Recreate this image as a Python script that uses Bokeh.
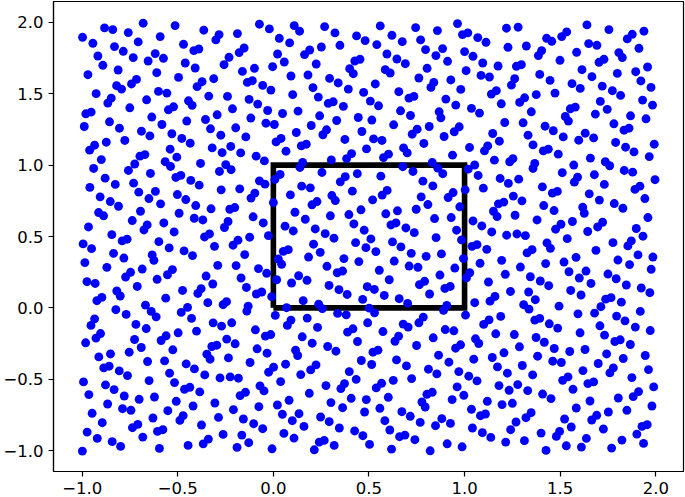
from bokeh.plotting import figure
from bokeh.models import FixedTicker, Range1d, ColumnDataSource
from bokeh.embed import file_html
from bokeh.resources import INLINE

points_top_left = [
(-0.998,1.896),(-0.944,1.854),(-0.883,1.962),(-0.840,1.950),(-0.759,1.929),(-0.681,1.995),(-0.592,1.901),(-0.514,1.978),
(-0.707,1.864),(-0.831,1.831),(-0.785,1.798),(-0.918,1.765),(-0.892,1.700),(-0.733,1.754),(-0.618,1.782),(-0.655,1.730),
(-0.575,1.749),(-0.470,1.847),(-0.416,1.803),(-0.390,1.814),(-0.364,1.946),(-0.284,1.915),(-0.301,1.878),(-0.188,1.922),
(-0.073,1.988),(-0.153,1.821),(-0.179,1.789),(-0.232,1.756),(-0.258,1.704),(-0.461,1.716),(-0.409,1.681),(-0.812,1.667),
(-0.970,1.634),(-0.610,1.648),(-0.496,1.615),(-0.716,1.601),(-0.742,1.569),(-0.820,1.557),(-0.794,1.533),(-0.927,1.501),
(-0.601,1.517),(-0.557,1.505),(-0.373,1.585),(-0.399,1.550),(-0.312,1.606),(-0.162,1.657),(-0.099,1.679),(-0.110,1.592),
(-0.136,1.580),(-0.338,1.484),(-0.240,1.482),(-0.127,1.461),(-0.082,1.428),(-0.848,1.470),(-0.866,1.435),(-0.663,1.458),
(-0.444,1.451),(-0.425,1.419),(-0.751,1.402),(-0.522,1.409),(-0.549,1.388),(-0.214,1.395),(-0.953,1.372),(-0.981,1.360),
(-0.636,1.337),(-0.294,1.353),(-0.355,1.320),(-0.453,1.309),(-0.118,1.330),(-0.857,1.304),(-0.989,1.271),(-0.583,1.285),
(-0.805,1.259),(-0.329,1.255),(-0.197,1.262),(-0.690,1.238),(-0.646,1.205),(-0.531,1.220),(-0.275,1.210),(-0.144,1.198),
(-0.479,1.187),(-0.777,1.173),(-0.874,1.161),(-0.435,1.154),(-0.935,1.140),(-0.961,1.105),(-0.540,1.112),(-0.320,1.121),
(-0.223,1.131),(-0.268,1.088),(-0.171,1.086),(-0.672,1.074),(-0.698,1.063),(-0.505,1.056),(-0.090,1.063),(-0.900,1.039),
]
points_top_mid = [
(-0.021,1.955),(0.109,1.978),(0.137,1.939),(0.031,1.889),(0.085,1.857),(0.268,1.971),(0.322,1.927),(0.435,1.906),
(0.480,1.873),(0.348,1.840),(0.251,1.828),(0.190,1.807),(0.163,1.775),(0.022,1.779),(0.057,1.723),(-0.004,1.690),
(0.224,1.709),(0.559,1.976),(0.620,1.910),(0.674,1.866),(0.541,1.845),(0.744,1.964),(0.770,1.878),(0.858,1.943),
(0.963,1.992),(1.017,1.927),(0.989,1.915),(0.885,1.817),(0.796,1.810),(0.850,1.768),(0.911,1.728),(1.000,1.796),
(0.594,1.779),(0.646,1.744),(0.690,1.711),(0.453,1.742),(0.426,1.730),(0.399,1.676),(0.418,1.641),(0.092,1.625),
(0.181,1.632),(0.294,1.608),(0.339,1.576),(-0.056,1.559),(-0.013,1.526),(0.207,1.543),(0.392,1.533),(0.533,1.569),
(0.585,1.669),(0.611,1.646),(0.804,1.679),(0.761,1.611),(1.008,1.662),(0.928,1.597),(0.839,1.580),(0.824,1.545),
(0.980,1.531),(0.101,1.494),(0.235,1.477),(0.472,1.510),(0.656,1.515),(0.735,1.482),(0.709,1.470),(0.507,1.449),
(0.313,1.444),(0.287,1.433),(0.902,1.463),(0.954,1.421),(0.366,1.412),(0.550,1.416),(-0.030,1.383),(0.129,1.379),
(0.048,1.362),(0.665,1.381),(0.717,1.348),(0.867,1.374),(0.876,1.332),(0.242,1.346),(0.444,1.334),(0.515,1.316),
(0.331,1.313),(-0.039,1.294),(0.005,1.285),(0.198,1.278),(0.629,1.283),(0.815,1.271),(0.972,1.269),(0.946,1.234),
(0.752,1.252),(0.726,1.217),(0.120,1.229),(0.278,1.248),(0.259,1.213),(0.463,1.236),(0.893,1.201),(0.374,1.180),
(0.524,1.184),(0.568,1.173),(0.040,1.187),(0.014,1.163),(0.172,1.147),(0.146,1.135),(0.787,1.152),(1.026,1.124),
(0.487,1.114),(0.681,1.121),(0.700,1.086),(0.066,1.098),(0.409,1.081),(0.383,1.046),(0.602,1.077),(0.576,1.053),
(0.937,1.070),(0.303,1.037),(-0.047,1.030),
]
points_top_right = [
(1.069,1.894),(1.112,1.861),(1.219,1.960),(1.280,1.967),(1.227,1.826),(1.323,1.835),(1.429,1.889),(1.456,1.868),
(1.508,1.901),(1.534,1.934),(1.640,1.983),(1.755,1.950),(1.877,1.917),(1.851,1.885),(1.938,1.939),(1.649,1.852),
(1.692,1.840),(1.586,1.791),(1.912,1.819),(1.807,1.789),(1.825,1.754),(1.729,1.742),(1.703,1.721),(1.403,1.803),
(1.386,1.768),(1.499,1.735),(1.044,1.763),(1.095,1.716),(1.175,1.695),(1.297,1.704),(1.271,1.693),(1.614,1.669),
(1.957,1.688),(1.895,1.655),(1.799,1.643),(1.393,1.636),(1.666,1.620),(1.086,1.629),(1.130,1.618),(1.262,1.606),
(1.245,1.561),(1.447,1.594),(1.922,1.590),(1.562,1.571),(1.605,1.538),(1.720,1.554),(1.975,1.545),(1.773,1.522),
(1.816,1.489),(1.166,1.522),(1.140,1.498),(1.473,1.505),(1.375,1.494),(1.314,1.472),(1.288,1.440),(1.192,1.430),
(1.710,1.447),(1.931,1.456),(1.983,1.421),(1.746,1.391),(1.579,1.407),(1.553,1.395),(1.036,1.398),(1.078,1.365),
(1.349,1.374),(1.684,1.358),(1.868,1.346),(1.527,1.341),(1.949,1.325),(1.543,1.309),(1.210,1.299),(1.306,1.297),
(1.781,1.290),(1.421,1.273),(1.464,1.241),(1.860,1.259),(1.834,1.245),(1.147,1.222),(1.332,1.210),(1.631,1.224),
(1.516,1.198),(1.675,1.191),(1.597,1.175),(1.182,1.168),(1.790,1.159),(1.992,1.147),(1.358,1.142),(1.842,1.126),
(1.121,1.135),(1.104,1.100),(1.438,1.112),(1.412,1.100),(1.886,1.093),(1.490,1.077),(1.966,1.060),(1.658,1.049),
(1.156,1.035),(1.253,1.046),
]
points_mid_left = [
(-0.725,1.008),(-0.566,1.024),(-0.538,0.991),(-0.381,1.012),(-0.249,1.003),(-0.940,0.977),(-0.758,0.963),(-0.643,0.942),
(-0.282,0.956),(-0.221,0.968),(-0.484,0.928),(-0.510,0.914),(-0.880,0.909),(-0.432,0.893),(-0.827,0.865),(-0.731,0.874),
(-0.388,0.860),(-0.073,0.890),(-0.960,0.844),(-0.273,0.827),(-0.176,0.834),(-0.704,0.811),(-0.617,0.816),(-0.502,0.794),
(-0.097,0.804),(-0.117,0.769),(-0.906,0.778),(-0.651,0.766),(-0.458,0.759),(-0.853,0.745),(-0.810,0.712),(-0.590,0.729),
(-0.406,0.717),(-0.326,0.694),(-0.202,0.703),(-0.228,0.691),(-0.695,0.677),(-0.914,0.668),(-0.888,0.645),(-0.493,0.663),
(-0.414,0.628),(-0.369,0.616),(-0.106,0.638),(-0.738,0.612),(-0.573,0.595),(-0.237,0.605),(-0.256,0.563),(-0.660,0.581),
(-0.677,0.546),(-0.967,0.567),(-0.519,0.532),(-0.845,0.513),(-0.334,0.518),(-0.360,0.497),(-0.765,0.481),(-0.791,0.469),
(-0.124,0.495),(-0.185,0.474),(-0.211,0.439),(-0.599,0.464),(-0.995,0.448),(-0.308,0.431),(-0.951,0.415),(-0.545,0.420),
(-0.467,0.399),(-0.836,0.382),(-0.634,0.371),(-0.423,0.366),(-0.150,0.373),(-0.782,0.349),(-0.625,0.333),(-0.986,0.317),
(-0.291,0.298),(-0.195,0.296),(-0.871,0.284),(-0.686,0.272),(-0.078,0.275),(-0.528,0.268),(-0.554,0.232),(-0.747,0.249),
(-0.773,0.216),(-0.352,0.223),(-0.608,0.200),(-0.169,0.209),(-0.975,0.183),(-0.932,0.171),(-0.317,0.167),(-0.712,0.150),
(-0.141,0.143),(-0.475,0.122),(-0.378,0.134),(-0.395,0.101),(-0.819,0.118),(-0.801,0.083),(-0.089,0.097),(-0.897,0.073),
(-0.923,0.050),(-0.563,0.068),(-0.343,0.036),(-0.245,0.043),(-0.263,0.022),(-0.669,0.019),(-0.132,0.012),(-0.139,-0.023),
(-0.449,0.003),(-0.482,-0.032),(-0.824,-0.013),(-0.639,-0.025),(-0.770,-0.046),(-0.613,-0.063),(-0.428,-0.074),(-0.935,-0.077),
]
points_mid_mid = [
(0.153,1.019),(0.139,0.984),(0.677,0.989),(0.831,1.019),(0.860,0.979),(0.886,0.940),(0.730,0.956),(1.019,0.972),
(0.254,0.949),(0.439,0.940),(0.562,0.923),(0.035,0.935),(0.008,0.900),(0.376,0.919),(0.350,0.883),(0.782,0.888),
(0.834,0.855),(-0.044,0.867),(0.148,0.853),(0.193,0.841),(0.413,0.818),(0.595,0.823),(0.569,0.790),(1.003,0.827),
(0.089,0.792),(0.306,0.787),(0.324,0.752),(0.773,0.778),(0.940,0.808),(0.914,0.773),(0.519,0.757),(0.228,0.745),
(0.202,0.722),(0.808,0.724),(0.000,0.738),(0.975,0.708),(0.458,0.687),(0.747,0.691),(0.649,0.680),(0.113,0.670),
(0.395,0.654),(0.588,0.659),(0.298,0.645),(0.167,0.621),(0.843,0.626),(0.930,0.633),(-0.053,0.595),(0.641,0.595),
(0.615,0.581),(0.421,0.588),(0.693,0.560),(0.061,0.572),(0.219,0.553),(0.475,0.544),(0.104,0.539),(0.737,0.527),
(0.958,0.544),(0.271,0.520),(-0.026,0.506),(0.317,0.488),(0.851,0.492),(0.510,0.483),(0.984,0.476),(0.623,0.462),
(0.430,0.457),(0.210,0.446),(0.667,0.427),(0.484,0.422),(0.078,0.408),(0.052,0.396),(0.245,0.389),(0.536,0.394),
(0.721,0.382),(0.879,0.378),(0.184,0.356),(0.799,0.361),(0.369,0.345),(0.026,0.342),(0.994,0.345),(0.632,0.328),
(0.447,0.324),(0.043,0.305),(0.280,0.291),(0.710,0.293),(0.756,0.284),(0.949,0.279),(0.362,0.258),(0.334,0.246),
(0.554,0.263),(1.027,0.246),(-0.035,0.242),(0.132,0.225),(0.871,0.230),(1.010,0.211),(0.017,0.197),(0.176,0.193),
(0.606,0.197),(0.095,0.174),(0.791,0.186),(0.764,0.162),(0.291,0.157),(0.491,0.148),(0.528,0.129),(0.343,0.127),
(0.925,0.150),(0.897,0.136),(0.386,0.094),(0.580,0.087),(0.817,0.097),(-0.061,0.111),(-0.009,0.078),(0.467,0.059),
(0.658,0.064),(0.156,0.050),(0.702,0.031),(0.237,0.026),(0.256,-0.006),(0.069,0.001),(0.501,-0.002),(0.529,-0.035),
(0.907,0.017),(0.890,-0.018),(0.336,-0.039),(0.381,-0.049),(0.010,-0.053),(1.005,-0.051),(0.177,-0.072),(0.092,-0.086),
(0.784,-0.065),
]
points_mid_right = [
(1.053,1.001),(1.236,1.024),(1.367,1.012),(1.358,0.977),(1.571,1.001),(1.736,1.024),(1.759,0.996),(1.835,0.963),
(1.879,0.951),(1.996,0.898),(1.071,0.928),(1.511,0.947),(1.679,0.933),(1.591,0.916),(1.574,0.881),(1.186,0.907),
(1.283,0.902),(1.229,0.872),(1.731,0.865),(1.917,0.853),(1.891,0.830),(1.098,0.839),(1.407,0.848),(1.485,0.816),
(1.459,0.804),(1.652,0.799),(1.255,0.783),(1.943,0.766),(1.705,0.755),(1.300,0.750),(1.205,0.741),(1.177,0.729),
(1.783,0.731),(1.414,0.717),(1.828,0.698),(1.618,0.705),(1.468,0.682),(1.626,0.663),(1.151,0.677),(1.170,0.640),
(1.264,0.649),(1.959,0.633),(1.379,0.616),(1.564,0.605),(1.044,0.609),(1.722,0.600),(1.696,0.567),(1.504,0.586),
(1.476,0.551),(1.090,0.574),(1.898,0.556),(1.644,0.535),(1.142,0.532),(1.220,0.509),(1.274,0.518),(1.318,0.506),
(1.933,0.502),(1.537,0.485),(1.872,0.469),(1.854,0.434),(1.431,0.455),(1.449,0.417),(1.776,0.457),(1.065,0.443),
(1.039,0.431),(1.116,0.410),(1.353,0.408),(1.327,0.385),(1.687,0.403),(1.907,0.371),(1.583,0.354),(1.985,0.356),
(1.802,0.335),(1.194,0.333),(1.520,0.321),(1.424,0.310),(1.081,0.312),(1.863,0.303),(1.292,0.286),(1.546,0.253),
(1.635,0.258),(1.976,0.270),(1.213,0.235),(1.750,0.237),(1.344,0.218),(1.600,0.209),(1.793,0.204),(1.125,0.181),
(1.396,0.188),(1.661,0.171),(1.440,0.155),(1.846,0.160),(1.924,0.139),(1.555,0.122),(1.240,0.115),(1.335,0.111),
(1.969,0.106),(1.609,0.090),(1.159,0.080),(1.766,0.071),(1.738,0.061),(1.370,0.057),(1.133,0.047),(1.053,0.036),
(1.820,0.040),(1.309,0.022),(1.713,0.008),(1.337,-0.009),(1.494,0.012),(1.919,-0.025),(1.680,-0.037),(1.593,-0.042),
(1.795,-0.058),(1.189,-0.060),(1.839,-0.091),(1.393,-0.074),(1.367,-0.086),(1.128,-0.084),
]
points_low_left = [
(-0.315,-0.105),(-0.218,-0.105),(-0.954,-0.123),(-0.719,-0.116),(-0.271,-0.128),(-0.665,-0.145),(-0.094,-0.154),(-0.402,-0.163),
(-0.498,-0.175),(-0.904,-0.180),(-0.928,-0.212),(-0.561,-0.196),(-0.587,-0.229),(-0.726,-0.222),(-0.982,-0.245),(-0.244,-0.219),
(-0.200,-0.252),(-0.296,-0.262),(-0.322,-0.271),(-0.691,-0.278),(-0.085,-0.287),(-0.526,-0.294),(-0.754,-0.311),(-0.852,-0.323),
(-0.348,-0.325),(-0.235,-0.351),(-0.913,-0.344),(-0.331,-0.360),(-0.658,-0.376),(-0.569,-0.372),(-0.122,-0.383),(-0.456,-0.393),
(-0.859,-0.409),(-0.887,-0.421),(-0.413,-0.428),(-0.806,-0.442),(-0.763,-0.475),(-0.543,-0.458),(-0.359,-0.470),(-0.279,-0.491),
(-0.226,-0.484),(-0.183,-0.493),(-0.650,-0.510),(-0.993,-0.519),(-0.517,-0.524),(-0.878,-0.540),(-0.070,-0.547),(-0.437,-0.557),
(-0.465,-0.571),(-0.833,-0.573),(-0.385,-0.589),(-0.146,-0.592),(-0.174,-0.615),(-0.965,-0.608),(-0.780,-0.618),(-0.622,-0.625),
(-0.702,-0.641),(-0.508,-0.655),(-0.867,-0.674),(-0.306,-0.667),(-0.420,-0.688),(-0.076,-0.693),(-0.789,-0.707),(-0.745,-0.718),
(-0.552,-0.721),(-0.209,-0.714),(-0.948,-0.739),(-0.472,-0.756),(-0.489,-0.789),(-0.630,-0.772),(-0.287,-0.768),(-0.157,-0.779),
(-0.895,-0.805),(-0.103,-0.812),(-0.376,-0.821),(-0.709,-0.817),(-0.737,-0.840),(-0.578,-0.854),(-0.606,-0.866),(-0.974,-0.871),
(-0.263,-0.887),(-0.165,-0.892),(-0.683,-0.906),(-0.921,-0.915),(-0.340,-0.920),(-0.367,-0.953),(-0.129,-0.945),(-0.843,-0.938),
(-0.446,-0.964),(-0.799,-0.971),(-0.190,-0.978),(-0.596,-0.985),(-0.999,-1.004),
]
points_low_mid = [
(0.073,-0.123),(0.231,-0.137),(0.493,-0.105),(0.679,-0.114),(0.761,-0.105),(0.705,-0.135),(0.416,-0.147),(0.388,-0.170),
(0.899,-0.152),(0.944,-0.161),(0.573,-0.166),(-0.014,-0.187),(-0.042,-0.198),(0.151,-0.203),(0.655,-0.198),(0.636,-0.234),
(0.836,-0.210),(0.440,-0.236),(0.203,-0.248),(0.979,-0.259),(0.953,-0.283),(0.749,-0.264),(0.284,-0.271),(0.116,-0.297),
(0.327,-0.304),(0.547,-0.297),(0.521,-0.311),(-0.033,-0.318),(0.127,-0.334),(0.864,-0.332),(0.460,-0.369),(0.644,-0.365),
(0.918,-0.381),(0.514,-0.397),(0.064,-0.395),(0.223,-0.400),(0.696,-0.407),(0.195,-0.435),(0.001,-0.416),(-0.025,-0.451),
(0.811,-0.430),(0.397,-0.447),(0.970,-0.447),(0.855,-0.463),(0.143,-0.468),(1.022,-0.479),(0.433,-0.501),(0.723,-0.496),
(0.627,-0.508),(0.038,-0.517),(0.566,-0.529),(0.538,-0.561),(0.372,-0.531),(0.353,-0.566),(0.275,-0.545),(0.961,-0.554),
(0.831,-0.592),(0.803,-0.606),(0.188,-0.599),(0.996,-0.613),(0.601,-0.627),(0.407,-0.634),(0.486,-0.643),(0.082,-0.648),
(0.935,-0.643),(0.777,-0.660),(0.301,-0.664),(0.021,-0.681),(0.794,-0.695),(0.362,-0.700),(0.557,-0.704),(0.672,-0.728),
(0.477,-0.730),(0.047,-0.746),(0.134,-0.742),(0.716,-0.760),(0.247,-0.765),(0.881,-0.777),(0.099,-0.791),(0.292,-0.798),
(0.583,-0.791),(0.768,-0.803),(0.926,-0.810),(0.848,-0.826),(0.160,-0.831),(0.345,-0.842),(-0.056,-0.847),(0.609,-0.856),
(0.425,-0.863),(0.055,-0.880),(0.688,-0.892),(0.660,-0.903),(0.468,-0.896),(0.108,-0.913),(0.740,-0.924),(0.266,-0.929),
(0.240,-0.941),(0.503,-0.957),(0.318,-0.964),(0.909,-0.953),(0.987,-0.974),(-0.007,-0.988),(0.214,-0.995),(0.618,-0.990),
(0.820,-1.002),(-0.049,-0.582),
]
points_low_right = [
(1.100,-0.116),(1.443,-0.112),(1.487,-0.142),(1.708,-0.126),(1.893,-0.135),(1.971,-0.159),(1.163,-0.182),(1.260,-0.187),
(1.604,-0.175),(1.732,-0.191),(1.057,-0.217),(1.074,-0.250),(1.374,-0.208),(1.417,-0.241),(1.814,-0.224),(1.786,-0.236),
(1.867,-0.257),(1.287,-0.273),(1.469,-0.285),(1.630,-0.292),(1.550,-0.306),(1.206,-0.315),(1.743,-0.323),(1.382,-0.339),
(1.145,-0.348),(1.945,-0.334),(1.048,-0.360),(1.830,-0.355),(1.461,-0.374),(1.506,-0.383),(1.699,-0.390),(1.302,-0.404),
(1.172,-0.414),(1.778,-0.421),(1.760,-0.456),(1.962,-0.433),(1.619,-0.440),(1.224,-0.458),(1.356,-0.470),(1.541,-0.484),
(1.513,-0.508),(1.875,-0.489),(1.065,-0.512),(1.675,-0.519),(1.645,-0.531),(1.278,-0.538),(1.180,-0.545),(1.989,-0.554),
(1.567,-0.571),(1.233,-0.578),(1.330,-0.580),(1.910,-0.587),(1.882,-0.622),(1.408,-0.604),(1.452,-0.636),(1.804,-0.632),
(1.656,-0.653),(1.119,-0.655),(1.250,-0.669),(1.196,-0.678),(1.980,-0.688),(1.584,-0.702),(1.849,-0.718),(1.036,-0.711),
(1.752,-0.730),(1.348,-0.735),(1.321,-0.770),(1.109,-0.744),(1.083,-0.756),(1.691,-0.753),(1.665,-0.786),(1.523,-0.779),
(1.269,-0.800),(1.558,-0.835),(1.955,-0.819),(1.928,-0.831),(1.241,-0.854),(1.726,-0.849),(1.041,-0.842),(1.093,-0.875),
(1.497,-0.866),(1.480,-0.901),(1.400,-0.878),(1.901,-0.885),(1.137,-0.908),(1.637,-0.915),(1.823,-0.927),(1.313,-0.931),
(1.215,-0.941),(1.936,-0.950),(1.532,-0.967),(1.611,-0.976),(1.769,-0.983),(1.426,-0.999),
]
box_x = [0, 1, 1, 0, 0]
box_y = [0, 0, 1, 1, 0]
tick_values = [-1.0, -0.5, 0.0, 0.5, 1.0, 1.5, 2.0]
tick_labels = ["\u22121.0", "\u22120.5", "0.0", "0.5", "1.0", "1.5", "2.0"]

all_points = (points_top_left + points_top_mid + points_top_right + points_mid_left + points_mid_mid
              + points_mid_right + points_low_left + points_low_mid + points_low_right)
source = ColumnDataSource(dict(x=[pt[0] for pt in all_points], y=[pt[1] for pt in all_points]))

p = figure(width=685, height=497, output_backend="svg", toolbar_location=None,
           x_range=Range1d(-1.15, 2.145), y_range=Range1d(-1.147, 2.147),
           min_border_left=53, min_border_right=2, min_border_top=1, min_border_bottom=26)
p.grid.visible = False
p.outline_line_color = "#000000"
p.outline_line_width = 1.2
p.background_fill_color = "white"

for ax in (p.xaxis[0], p.yaxis[0]):
    ax.ticker = FixedTicker(ticks=tick_values)
    ax.major_label_overrides = dict(zip(tick_values, tick_labels))
    ax.major_label_text_font = "DejaVu Sans"
    ax.major_label_text_font_size = "16.5px"
    ax.major_label_text_color = "#000000"
    ax.axis_line_color = "#000000"
    ax.axis_line_width = 1.2
    ax.major_tick_line_color = "#000000"
    ax.major_tick_line_width = 1.2
    ax.major_tick_in = 0
    ax.major_tick_out = 5
    ax.minor_tick_line_color = None
p.xaxis[0].major_label_standoff = 5
p.yaxis[0].major_label_standoff = 5

p.line(box_x, box_y, line_color="#000000", line_width=5.6, line_join="miter")
p.scatter("x", "y", source=source, size=8.9, fill_color="#0000ff", line_color=None)

open("out.html", "w").write(file_html(p, INLINE))
